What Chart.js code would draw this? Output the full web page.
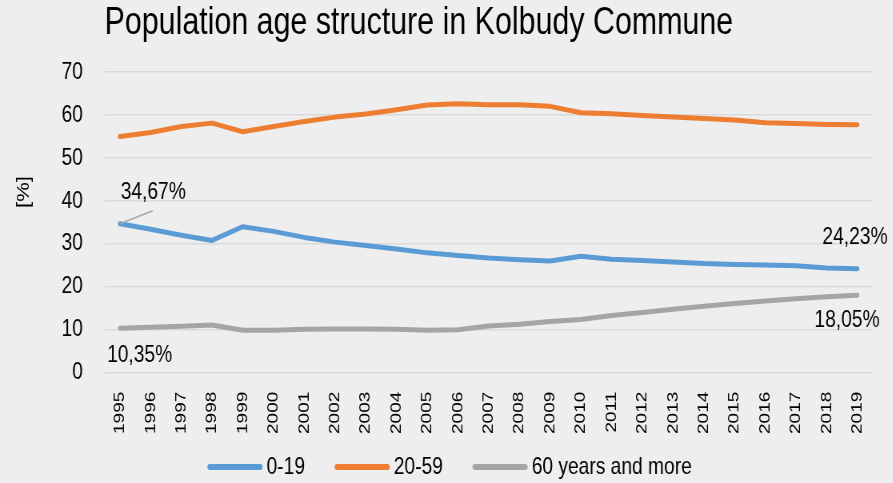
<!DOCTYPE html>
<html>
<head>
<meta charset="utf-8">
<script src="https://cdn.jsdelivr.net/npm/chart.js@4.4.1/dist/chart.umd.min.js"></script>
<style>
  html, body { margin: 0; padding: 0; background: #eeeeee; overflow: hidden; }
  #wrap { width: 893px; height: 483px; overflow: hidden; }
  /* the original is horizontally condensed, so draw wide and squeeze */
  #ageChart { transform: scaleX(0.8); transform-origin: 0 0; }
</style>
</head>
<body>
<div id="wrap"><canvas id="ageChart" width="1116" height="483"></canvas></div>
<script>
const years = ['1995','1996','1997','1998','1999','2000','2001','2002','2003','2004','2005','2006',
  '2007','2008','2009','2010','2011','2012','2013','2014','2015','2016','2017','2018','2019'];
const young = [34.67, 33.4, 32.0, 30.8, 34.0, 32.9, 31.5, 30.4, 29.6, 28.8, 27.9, 27.3,
  26.7, 26.3, 26.0, 27.1, 26.4, 26.1, 25.8, 25.4, 25.2, 25.1, 24.9, 24.4, 24.23];
const adults = [55.0, 55.9, 57.3, 58.1, 56.1, 57.3, 58.5, 59.5, 60.2, 61.2, 62.3, 62.6,
  62.4, 62.4, 62.0, 60.5, 60.3, 59.9, 59.5, 59.2, 58.8, 58.2, 58.0, 57.8, 57.72];
const seniors = [10.35, 10.6, 10.8, 11.1, 9.9, 9.9, 10.1, 10.2, 10.2, 10.1, 9.9, 10.0,
  10.9, 11.3, 11.9, 12.4, 13.3, 14.0, 14.8, 15.5, 16.1, 16.7, 17.2, 17.7, 18.05];
const yTicks = [0, 10, 20, 30, 40, 50, 60, 70];

const sans = "'Liberation Sans', Arial, sans-serif";

// value labels, the [%] caption and a legend spaced like the original
const extras = {
  id: 'extras',
  afterDatasetsDraw(chart) {
    const c = chart.ctx;
    c.save();
    c.font = "24px " + sans;
    c.fillStyle = '#000';
    c.textBaseline = 'middle';

    const b0 = chart.getDatasetMeta(0).data;
    const g0 = chart.getDatasetMeta(2).data;
    const first = b0[0], lastB = b0[b0.length - 1];
    const firstG = g0[0], lastG = g0[g0.length - 1];

    c.strokeStyle = '#a6a6a6';
    c.lineWidth = 1.5;
    c.beginPath();
    c.moveTo(first.x, first.y);
    c.lineTo(first.x + 41, first.y - 13);
    c.stroke();

    c.textAlign = 'left';
    c.fillText('34,67%', first.x + 1, first.y - 31);
    c.fillText('10,35%', firstG.x - 16, firstG.y + 27);
    c.textAlign = 'center';
    c.fillText('24,23%', lastB.x - 3, lastB.y - 31);
    c.fillText('18,05%', lastG.x - 13, lastG.y + 25);

    // legend
    const sets = chart.data.datasets;
    const boxW = 69, gap = 5, space = 37, ly = 467;
    let total = space * (sets.length - 1);
    sets.forEach(ds => { total += boxW + gap + c.measureText(ds.label).width; });
    let x = (chart.width - total) / 2 + 4;
    c.textAlign = 'left';
    c.lineCap = 'round';
    c.lineWidth = 6;
    sets.forEach(ds => {
      c.strokeStyle = ds.borderColor;
      c.beginPath();
      c.moveTo(x + 3, ly);
      c.lineTo(x + boxW - 3, ly);
      c.stroke();
      x += boxW + gap;
      c.fillText(ds.label, x, ly);
      x += c.measureText(ds.label).width + space;
    });

    c.font = "22px " + sans;
    c.translate(30, 192);
    c.rotate(-Math.PI / 2);
    c.textAlign = 'center';
    c.fillText('[%]', 0, 0);
    c.restore();
  }
};

new Chart(document.getElementById('ageChart'), {
  type: 'line',
  data: {
    labels: years,
    datasets: [
      { label: '0-19', data: young, borderColor: '#5b9bd5', backgroundColor: '#5b9bd5' },
      { label: '20-59', data: adults, borderColor: '#ed7d31', backgroundColor: '#ed7d31' },
      { label: '60 years and more', data: seniors, borderColor: '#a5a5a5', backgroundColor: '#a5a5a5' }
    ]
  },
  options: {
    responsive: false,
    animation: false,
    devicePixelRatio: 1,
    layout: { padding: { left: 50, right: 25, top: 0, bottom: 38 } },
    elements: {
      line: { borderWidth: 5, tension: 0, borderCapStyle: 'round', borderJoinStyle: 'round' },
      point: { radius: 0, hoverRadius: 0 }
    },
    scales: {
      x: {
        offset: true,
        grid: { display: false },
        border: { display: false },
        ticks: {
          color: '#000',
          font: { family: sans, size: 19 },
          minRotation: 90, maxRotation: 90, padding: 11, autoSkip: false
        }
      },
      y: {
        min: 0, max: 70,
        afterBuildTicks(scale) { scale.ticks = yTicks.map(v => ({ value: v })); },
        grid: { color: '#d9d9d9', lineWidth: 1.5, drawTicks: false },
        border: { display: false },
        ticks: { color: '#000', font: { family: sans, size: 24 }, padding: 27 }
      }
    },
    plugins: {
      title: {
        display: true,
        text: 'Population age structure in Kolbudy Commune',
        align: 'start',
        fullSize: false,
        color: '#000',
        font: { family: sans, size: 38, weight: 'normal' },
        padding: { top: 1, bottom: 25.4 }
      },
      legend: { display: false },
      tooltip: { enabled: false }
    }
  },
  plugins: [extras]
});
</script>
</body>
</html>
